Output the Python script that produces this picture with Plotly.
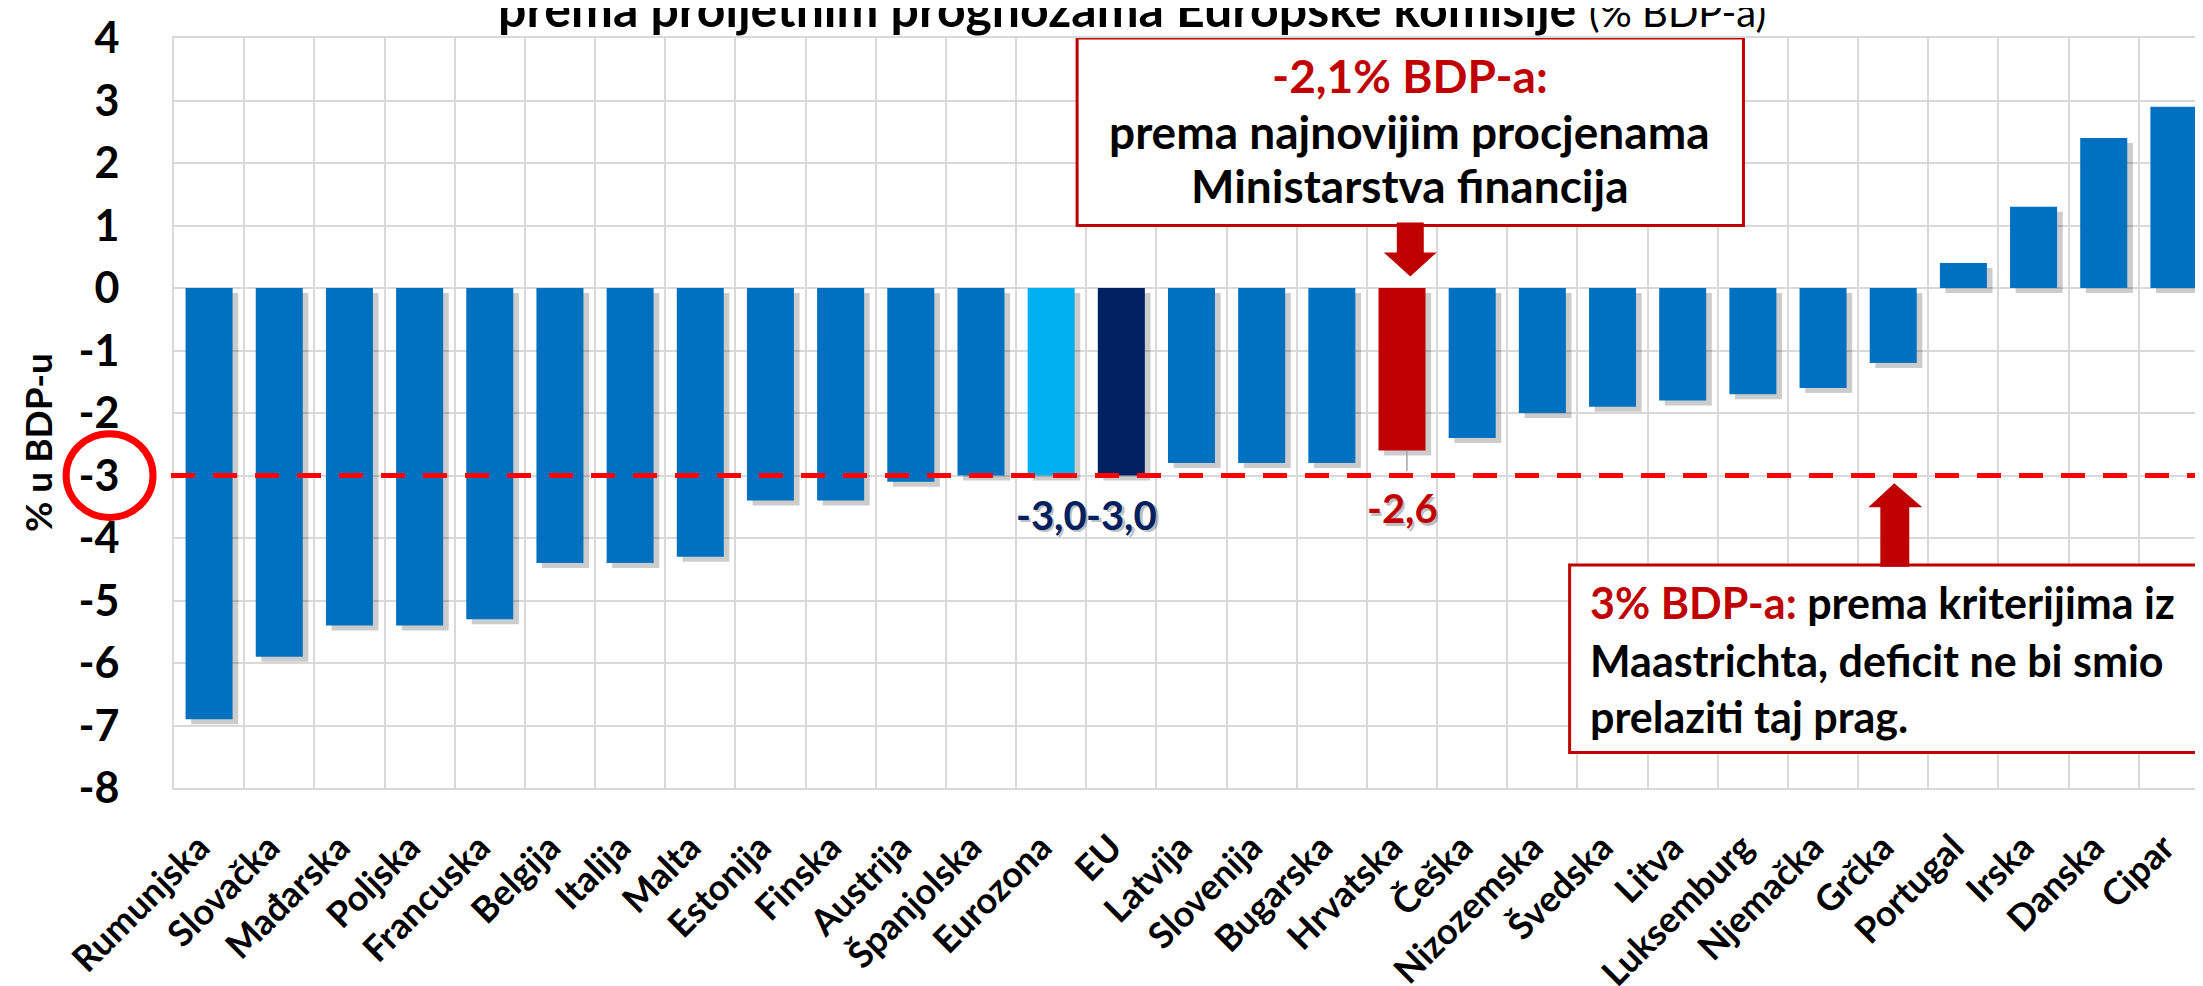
import plotly.graph_objects as go

# ---------------- data ----------------
categories = ["Rumunjska", "Slovačka", "Mađarska", "Poljska", "Francuska", "Belgija",
              "Italija", "Malta", "Estonija", "Finska", "Austrija", "Španjolska",
              "Eurozona", "EU", "Latvija", "Slovenija", "Bugarska", "Hrvatska",
              "Češka", "Nizozemska", "Švedska", "Litva", "Luksemburg", "Njemačka",
              "Grčka", "Portugal", "Irska", "Danska", "Cipar"]
values = [-6.9, -5.9, -5.4, -5.4, -5.3, -4.4, -4.4, -4.3, -3.4, -3.4, -3.1, -3.0,
          -3.0, -3.0, -2.8, -2.8, -2.8, -2.6, -2.4, -2.0, -1.9, -1.8, -1.7, -1.6,
          -1.2, 0.4, 1.3, 2.4, 2.9]
y_ticks = [4, 3, 2, 1, 0, -1, -2, -3, -4, -5, -6, -7, -8]
y_tick_labels = ["4", "3", "2", "1", "0", "-1", "-2", "-3", "-4", "-5", "-6", "-7", "-8"]
threshold = -3.0
labelled = ["Eurozona", "EU", "Hrvatska"]

title_bold = "prema proljetnim prognozama Europske komisije"
title_unit = "(% BDP-a)"
y_title = "% u BDP-u"
box1_lines = ["-2,1% BDP-a:", "prema najnovijim procjenama", "Ministarstva financija"]
box2_lines = ["3% BDP-a:", "prema kriterijima iz", "Maastrichta, deficit ne bi smio",
              "prelaziti taj prag."]

# ---------------- style ----------------
FONT = "Lato, 'Open Sans', sans-serif"
BLUE = "#0070C0"
special = {"Eurozona": "#00B0F0", "EU": "#002060", "Hrvatska": "#C00000"}
label_color = {"Eurozona": "#002060", "EU": "#002060", "Hrvatska": "#C00000"}
DARKRED = "#C00000"
GRID = "#D9D9D9"

W, H = 2203, 986
L, R, T, B = 166, 0, 30, 176
pw, ph = W - L - R, H - T - B


def fx(px):
    return (px - L) / pw


def fy(py):
    return (H - B - py) / ph


colors = [special.get(c, BLUE) for c in categories]
idx = {c: i for i, c in enumerate(categories)}
bw = 0.67

fig = go.Figure()
# soft shadow
fig.add_trace(go.Bar(x=categories, y=values, base=[-0.08] * len(values),
                     width=bw, offset=-bw / 2 + 0.08,
                     marker=dict(color="rgba(0,0,0,0.2)", line=dict(width=0)),
                     hoverinfo="skip", showlegend=False))
fig.add_trace(go.Bar(x=categories, y=values, width=bw, offset=-bw / 2,
                     marker=dict(color=colors, line=dict(width=0)),
                     showlegend=False))

shapes = []
annotations = []

# threshold dashed line
shapes.append(dict(type="line", xref="paper", yref="y", x0=fx(163), x1=1.01,
                   y0=threshold, y1=threshold,
                   line=dict(color="#FF0000", width=5, dash="24px,18px"), layer="above"))

# red circle around -3 tick label
shapes.append(dict(type="circle", xref="paper", yref="y",
                   x0=fx(101.5 - 43.5), x1=fx(101.5 + 43.5),
                   y0=threshold - 0.67, y1=threshold + 0.67,
                   line=dict(color="#FF0000", width=7), layer="above"))

# data labels
for c in labelled:
    v = values[idx[c]]
    txt = f"{v:.1f}".replace(".", ",")
    if c == "Hrvatska":
        ly = v - 0.92
        shapes.append(dict(type="line", xref="x", yref="y", x0=idx[c] + 0.07, x1=idx[c] + 0.07,
                           y0=v, y1=v - 0.33, line=dict(color="#A6A6A6", width=1.5), layer="above"))
    else:
        ly = threshold - 0.63
    for dx, dyv, col in [(0.04, -0.04, "rgba(0,0,0,0.25)"), (0, 0, label_color[c])]:
        annotations.append(dict(x=idx[c] + dx, y=ly + dyv, xref="x", yref="y", text=f"<b>{txt}</b>",
                                showarrow=False, xanchor="center", yanchor="middle",
                                font=dict(family=FONT, size=40, color=col)))

# top box
shapes.append(dict(type="rect", xref="paper", yref="y", x0=fx(1070), x1=fx(1737),
                   y0=1, y1=4, fillcolor="white", line=dict(color=DARKRED, width=3),
                   layer="above"))
for i, (line, yc) in enumerate(zip(box1_lines, [69, 127, 183])):
    annotations.append(dict(x=fx(1403), y=fy(yc), xref="paper", yref="paper",
                            text=f"<b>{line}</b>", showarrow=False,
                            xanchor="center", yanchor="middle",
                            font=dict(family=FONT, size=46,
                                      color=DARKRED if i == 0 else "black")))
# down arrow
pts = [(1390, 222), (1417, 222), (1417, 253), (1430, 253), (1403.5, 278), (1377, 253), (1390, 253)]
path = "M " + " L ".join(f"{fx(a):.5f},{fy(b):.5f}" for a, b in pts) + " Z"
shapes.append(dict(type="path", xref="paper", yref="paper", path=path,
                   fillcolor=DARKRED, line=dict(width=0), layer="above"))

# bottom box
shapes.append(dict(type="rect", xref="paper", yref="y", x0=fx(1563), x1=fx(2260),
                   y0=-7.43, y1=-4.43, fillcolor="white", line=dict(color=DARKRED, width=3),
                   layer="above"))
box2_text = [f"<span style='color:{DARKRED}'>{box2_lines[0]}</span> {box2_lines[1]}",
             box2_lines[2], box2_lines[3]]
for line, yc in zip(box2_text, [617, 677, 736]):
    annotations.append(dict(x=fx(1581), y=fy(yc), xref="paper", yref="paper",
                            text=f"<b>{line}</b>", showarrow=False,
                            xanchor="left", yanchor="middle",
                            font=dict(family=FONT, size=43, color="black")))
# up arrow
pts = [(1874, 580), (1874, 518), (1862, 518), (1888, 493), (1916, 518), (1903, 518), (1903, 580)]
path = "M " + " L ".join(f"{fx(a):.5f},{fy(b):.5f}" for a, b in pts) + " Z"
shapes.append(dict(type="path", xref="paper", yref="paper", path=path,
                   fillcolor=DARKRED, line=dict(width=0), layer="above"))

# title (cut at top as in the source)
annotations.append(dict(x=fx(1125), y=fy(32), xref="paper", yref="paper",
                        text=f"<b>{title_bold}</b> <span style='font-size:40px'>{title_unit}</span>",
                        showarrow=False, xanchor="center", yanchor="bottom",
                        font=dict(family=FONT, size=50, color="black")))
# y axis title
annotations.append(dict(x=fx(30), y=fy(451), xref="paper", yref="paper",
                        text=f"<b>{y_title}</b>", showarrow=False, textangle=-90,
                        xanchor="center", yanchor="middle",
                        font=dict(family=FONT, size=37, color="black")))

fig.update_layout(
    width=W, height=H,
    margin=dict(l=L, r=R, t=T, b=B, pad=0),
    paper_bgcolor="white", plot_bgcolor="white",
    barmode="overlay",
    shapes=shapes, annotations=annotations,
    font=dict(family=FONT, color="black"),
    xaxis=dict(type="category", tickson="boundaries", showgrid=True, gridcolor=GRID,
               gridwidth=2, tickangle=-45, ticks="", ticklabelstandoff=22,
               ticklabelshift=-10,
               tickfont=dict(family=FONT, size=36, color="black", weight="bold"),
               showline=True, linecolor=GRID, linewidth=2, mirror=True,
               range=[-0.5, len(categories) - 0.5]),
    yaxis=dict(range=[-8, 4], tickvals=y_ticks, ticktext=y_tick_labels,
               showgrid=True, gridcolor=GRID, gridwidth=2, zeroline=False,
               ticks="", ticklabelstandoff=44,
               tickfont=dict(family=FONT, size=43, color="black", weight="bold"),
               showline=True, linecolor=GRID, linewidth=2, mirror=True),
)

fig.write_html("out.html")
